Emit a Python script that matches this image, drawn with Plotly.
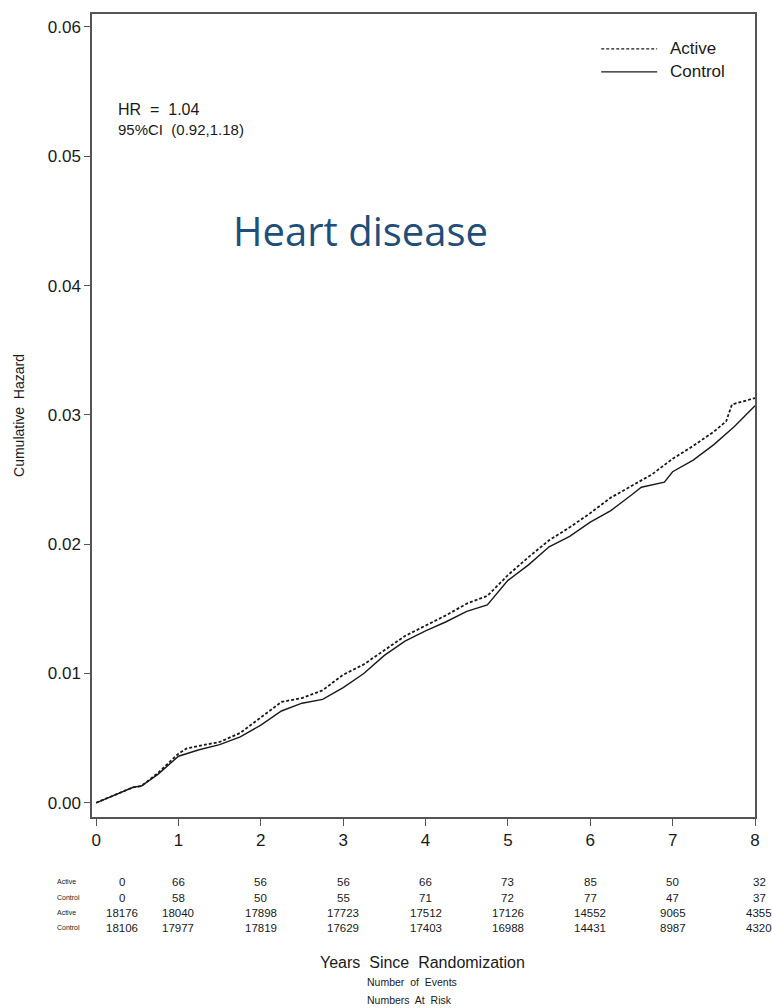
import plotly.graph_objects as go

# Cumulative hazard curves (years since randomization -> cumulative hazard)
active_years = [0.00, 0.25, 0.45, 0.55, 0.75, 1.00, 1.10, 1.25, 1.50, 1.75, 2.00, 2.25,
                2.50, 2.75, 3.00, 3.25, 3.50, 3.75, 4.00, 4.25, 4.50, 4.75, 5.00, 5.25,
                5.50, 5.75, 6.00, 6.25, 6.50, 6.75, 7.00, 7.25, 7.50, 7.65, 7.72, 8.00]
active_hazard = [0.0000, 0.0007, 0.0012, 0.0013, 0.0023, 0.0038, 0.0042, 0.0044, 0.0047,
                 0.0054, 0.0066, 0.0078, 0.0081, 0.0087, 0.0099, 0.0107, 0.0118, 0.0129,
                 0.0137, 0.0145, 0.0154, 0.0160, 0.0176, 0.0190, 0.0203, 0.0213, 0.0224,
                 0.0236, 0.0245, 0.0254, 0.0266, 0.0276, 0.0287, 0.0295, 0.0308, 0.0313]

control_years = [0.00, 0.25, 0.45, 0.55, 0.75, 1.00, 1.25, 1.50, 1.75, 2.00, 2.25, 2.50,
                 2.75, 3.00, 3.25, 3.50, 3.75, 4.00, 4.25, 4.50, 4.75, 5.00, 5.25, 5.50,
                 5.75, 6.00, 6.25, 6.50, 6.62, 6.90, 7.00, 7.25, 7.50, 7.75, 8.00]
control_hazard = [0.0000, 0.0007, 0.0012, 0.0013, 0.0022, 0.0036, 0.0041, 0.0045, 0.0051,
                  0.0060, 0.0071, 0.0077, 0.0080, 0.0089, 0.0100, 0.0114, 0.0125, 0.0133,
                  0.0140, 0.0148, 0.0153, 0.0172, 0.0184, 0.0198, 0.0206, 0.0217, 0.0226,
                  0.0238, 0.0244, 0.0248, 0.0256, 0.0265, 0.0277, 0.0291, 0.0307]

# Table under the x axis
table_years = [0, 1, 2, 3, 4, 5, 6, 7, 8]
events_active = [0, 66, 56, 56, 66, 73, 85, 50, 32]
events_control = [0, 58, 50, 55, 71, 72, 77, 47, 37]
risk_active = [18176, 18040, 17898, 17723, 17512, 17126, 14552, 9065, 4355]
risk_control = [18106, 17977, 17819, 17629, 17403, 16988, 14431, 8987, 4320]
row_labels = ["Active", "Control", "Active", "Control"]

x_ticks = [0, 1, 2, 3, 4, 5, 6, 7, 8]
y_ticks = [0.00, 0.01, 0.02, 0.03, 0.04, 0.05, 0.06]

W, H = 772, 1008
M_L, M_R, M_T, M_B = 92, 16, 12, 191
PLOT_H = H - M_T - M_B
FONT = "Liberation Sans, Arial, sans-serif"
INK = "#1a1a1a"
AXIS = "#555555"


def py(pixel_y):
    """Convert a page pixel row into paper coordinates."""
    return (H - M_B - pixel_y) / PLOT_H


def px(pixel_x):
    return (pixel_x - M_L) / (W - M_L - M_R)


fig = go.Figure()
fig.add_trace(go.Scatter(x=control_years, y=control_hazard, mode="lines", name="Control",
                         line=dict(color=INK, width=1.4), showlegend=False))
fig.add_trace(go.Scatter(x=active_years, y=active_hazard, mode="lines", name="Active",
                         line=dict(color=INK, width=1.8, dash="3px,2px"), showlegend=False))

ann = []
# Hazard ratio text
ann.append(dict(x=px(116), y=py(108), xref="paper", yref="paper", xanchor="left",
                yanchor="middle", showarrow=False, text="HR  =  1.04",
                font=dict(family=FONT, size=16, color=INK)))
ann.append(dict(x=px(116), y=py(128), xref="paper", yref="paper", xanchor="left",
                yanchor="middle", showarrow=False, text="95%CI  (0.92,1.18)",
                font=dict(family=FONT, size=15, color=INK)))

# Legend drawn as line samples plus labels
legend_rows = [("Active", py(47), "3px,2px"), ("Control", py(70), "solid")]
shapes = []
for label, yy, dash in legend_rows:
    shapes.append(dict(type="line", xref="paper", yref="paper", x0=px(602), x1=px(658),
                       y0=yy, y1=yy, line=dict(color=INK, width=1.2, dash=dash)))
    ann.append(dict(x=px(669), y=yy, xref="paper", yref="paper", xanchor="left",
                    yanchor="middle", showarrow=False, text=label,
                    font=dict(family=FONT, size=17, color=INK)))

# Panel heading
ann.append(dict(x=px(361), y=py(229), xref="paper", yref="paper", xanchor="center",
                yanchor="middle", showarrow=False, text="Heart disease",
                font=dict(family="Open Sans, Noto Sans, sans-serif", size=40, color="#1f4e79")))

# Events / at-risk table
rows = [events_active, events_control, risk_active, risk_control]
row_y = [882, 898, 913, 928]
for r, (vals, yy, lab) in enumerate(zip(rows, row_y, row_labels)):
    ann.append(dict(x=px(55), y=py(yy), xref="paper", yref="paper", xanchor="left",
                    yanchor="middle", showarrow=False, text=lab,
                    font=dict(family=FONT, size=7, color=INK)))
    for yr, v in zip(table_years, vals):
        shift = 26 if yr == 0 else (4 if yr == 8 else 0)
        ann.append(dict(x=yr, y=py(yy), xref="x", yref="paper", xanchor="center",
                        yanchor="middle", xshift=shift, showarrow=False, text=str(v),
                        font=dict(family=FONT, size=11.5, color=INK)))

# X axis titles
for text, cx, yy, size in [("Years  Since  Randomization", 423, 963, 16),
                           ("Number  of  Events", 412, 982, 10.5),
                           ("Numbers  At  Risk", 410, 1000, 10.5)]:
    ann.append(dict(x=px(cx), y=py(yy), xref="paper", yref="paper", xanchor="center",
                    yanchor="middle", showarrow=False, text=text,
                    font=dict(family=FONT, size=size, color=INK)))

fig.update_layout(
    width=W, height=H,
    margin=dict(l=M_L, r=M_R, t=M_T, b=M_B, pad=0),
    paper_bgcolor="white", plot_bgcolor="white",
    font=dict(family=FONT, color=INK),
    annotations=ann, shapes=shapes,
    xaxis=dict(range=[-0.05, 8.0], tickvals=x_ticks, ticktext=[str(t) for t in x_ticks],
               showgrid=False, zeroline=False, showline=True, mirror=True,
               linecolor=AXIS, linewidth=1.5, ticks="outside", ticklen=7, tickwidth=1.3,
               tickcolor=AXIS, tickfont=dict(family=FONT, size=17, color=INK)),
    yaxis=dict(range=[-0.0011, 0.0610], tickvals=y_ticks,
               ticktext=[f"{t:.2f}" for t in y_ticks],
               showgrid=False, zeroline=False, showline=True, mirror=True,
               linecolor=AXIS, linewidth=1.5, ticks="outside", ticklen=6, tickwidth=1.3,
               tickcolor=AXIS, tickfont=dict(family=FONT, size=17, color=INK),
               title=dict(text="Cumulative  Hazard", standoff=20,
                          font=dict(family=FONT, size=14, color=INK))),
)

fig.write_html("out.html")
